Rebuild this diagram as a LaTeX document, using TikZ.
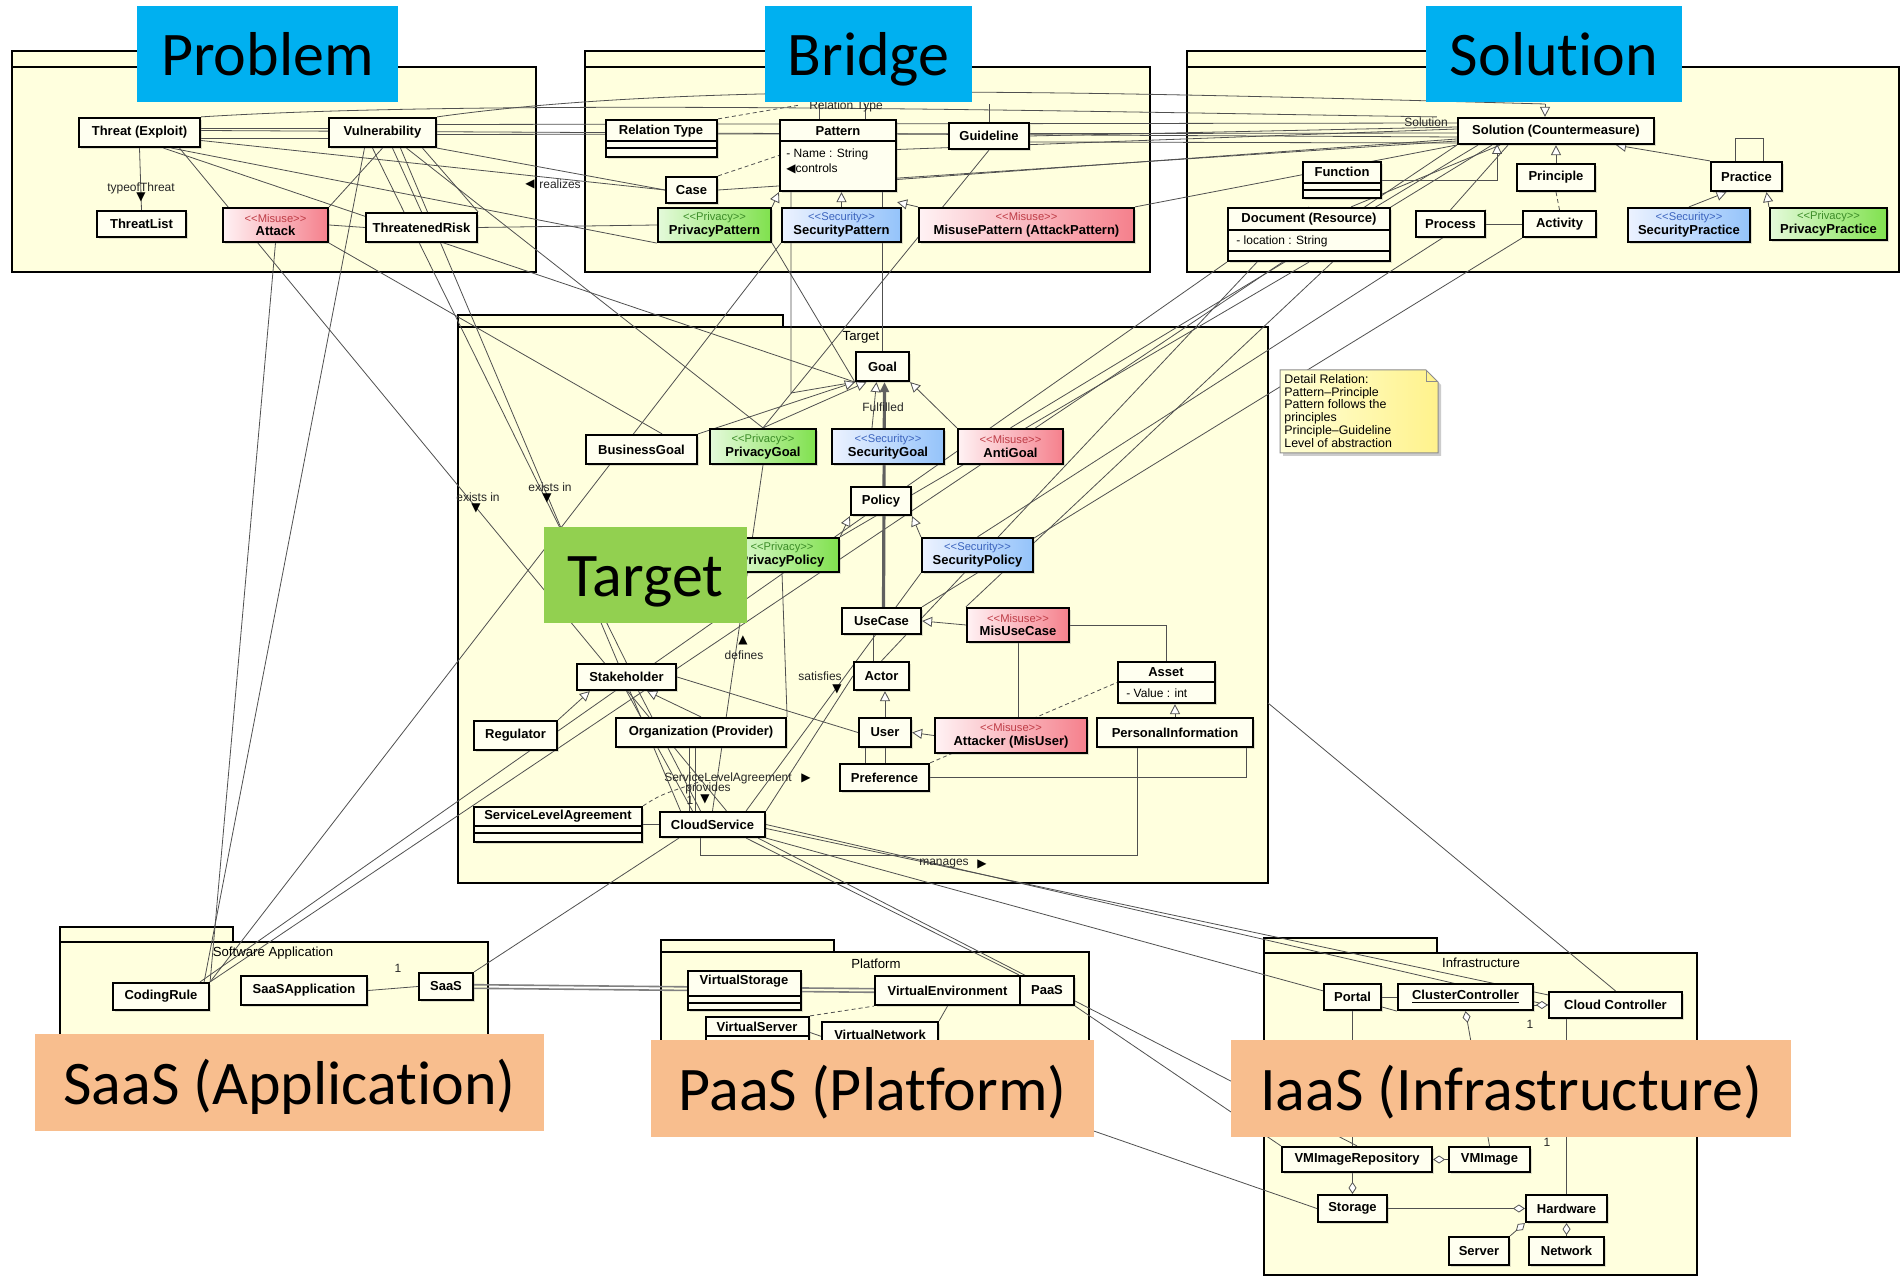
\documentclass[tikz,border=0pt]{standalone}
\usepackage{fontspec}
\setmainfont{Liberation Sans}
\newfontfamily\labfont[Ligatures=NoCommon]{Carlito}
\newfontfamily\symfont{DejaVu Sans}
\usetikzlibrary{arrows.meta,fit,shadows,calc}
\definecolor{blueL}{RGB}{0,176,240}
\definecolor{greenL}{RGB}{146,208,80}
\definecolor{orangeL}{RGB}{248,190,142}
\definecolor{pkgfill}{RGB}{255,255,222}
\definecolor{clsfill}{RGB}{255,255,240}
\definecolor{linec}{RGB}{80,80,80}
\definecolor{privL}{RGB}{228,250,218}
\definecolor{privR}{RGB}{128,225,78}
\definecolor{secL}{RGB}{236,242,255}
\definecolor{secR}{RGB}{148,195,250}
\definecolor{misL}{RGB}{255,242,244}
\definecolor{misR}{RGB}{245,128,140}
\definecolor{privT}{RGB}{60,140,40}
\definecolor{secT}{RGB}{60,100,190}
\definecolor{misT}{RGB}{190,60,70}
\definecolor{noteL}{RGB}{255,255,215}
\definecolor{noteR}{RGB}{255,242,140}
\pgfdeclarelayer{pkg}\pgfdeclarelayer{lines}\pgfdeclarelayer{fg}
\pgfsetlayers{pkg,lines,main,fg}
\tikzset{
  pkgbox/.style={draw=black, line width=1.3pt, fill=pkgfill, inner sep=0pt},
  pkgline/.style={draw=black, line width=1.3pt, fill=pkgfill},
  pkgname/.style={font=\fontsize{6.6}{7}\selectfont, inner sep=0pt},
  clsbox/.style={draw=black, line width=1.1pt, inner sep=0pt,
    drop shadow={opacity=0.25, shadow xshift=1.2pt, shadow yshift=-1.2pt}},
  plainc/.style={fill=clsfill},
  privc/.style={left color=privL, right color=privR},
  secc/.style={left color=secL, right color=secR},
  misc/.style={left color=misL, right color=misR},
  clstxt/.style={font=\bfseries\fontsize{6.5}{6.9}\selectfont, align=center, inner sep=0pt},
  attrtxt/.style={font=\fontsize{6}{7}\selectfont, inner sep=0pt},
  conn/.style={draw=linec, line width=0.4pt},
  gen/.style={-{Triangle[open, length=5pt, width=5pt, fill=white]}},
  aggs/.style={{Diamond[open, length=6pt, width=4pt, fill=white]}-},
  dsh/.style={dash pattern=on 2pt off 1.5pt},
  thk/.style={draw=gray!75!black, line width=1.6pt},
  small/.style={font=\fontsize{6}{6.5}\selectfont, inner sep=0pt, text=black!85},
  tri/.style={font=\symfont\fontsize{6}{6}\selectfont, inner sep=0pt},
  biglabel/.style={draw=none, inner sep=0pt},
  bigtxt/.style={font=\labfont\fontsize{31}{36}\selectfont, inner sep=0pt, anchor=base},
  notetxt/.style={font=\fontsize{6.2}{6.4}\selectfont, align=left, inner sep=0pt}
}
\newcommand\cls[7][plainc]{%
  \coordinate (#2-nw) at (#3,#4);
  \coordinate (#2-se) at (#5,#6);
  \node[clsbox,#1,fit=(#2-nw)(#2-se)] (#2) {};
  \node[clstxt] (#2-t) at (#2.center) {#7};}
\newcommand\st[2]{\textcolor{#1}{\mdseries\fontsize{5.6}{6.2}\selectfont <{}<#2>{}>}\\}
\newcommand\pkg[7]{%
  \draw[pkgline] (#2,#3) rectangle (#4,#5);
  \coordinate (#1-nw) at (#2,#5);
  \coordinate (#1-se) at (#6,#7);
  \node[pkgbox, fit=(#1-nw)(#1-se)] (#1) {};}
\newcommand\biglab[7]{%
  \coordinate (#1-nw) at (#2,#3);
  \coordinate (#1-se) at (#4,#5);
  \node[biglabel, fill=#6, fit=(#1-nw)(#1-se)] (#1) {};
  \node[bigtxt] (#1-t) at ([yshift=-11pt]#1.center) {#7};}
\begin{document}
\begin{tikzpicture}[x=0.5pt,y=-0.5pt]
\useasboundingbox (0,0) rectangle (1901,1277);
\begin{pgfonlayer}{pkg}
\fill[white] (0,0) rectangle (1901,1277);
\pkg{prob}{12}{51}{150}{67}{536}{272}
\pkg{bridgep}{585}{51}{780}{67}{1150}{272}
\pkg{solp}{1187}{51}{1440}{67}{1899}{272}
\pkg{tgtp}{458}{315}{783}{327}{1268}{883}
\pkg{swap}{60}{927}{233}{942}{488}{1045}
\pkg{platp}{661}{940}{834}{952}{1089}{1045}
\pkg{infrap}{1264}{938}{1437}{953}{1697}{1275}
\end{pgfonlayer}

\node[pkgname] (tgt-n) at (861,337) {Target};
\node[pkgname] (swa-n) at (273,953) {Software Application};
\node[pkgname] (plat-n) at (876,964) {Platform};
\node[pkgname] (infra-n) at (1481,963) {Infrastructure};
\node[small] (reltype-lbl) at (846,106) {Relation Type};
\node[small] (sol-lbl) at (1426,122) {Solution};

% ---------- Problem
\cls{threat}{79}{118}{200}{147}{Threat (Exploit)}
\cls{vuln}{329}{118}{436}{147}{Vulnerability}
\cls{tlist}{97}{211}{186}{237}{ThreatList}
\cls[misc]{attack}{223}{208}{328}{242}{\st{misT}{Misuse}Attack}
\cls{risk}{366}{213}{477}{242}{ThreatenedRisk}
% ---------- Bridge
\cls{reltype}{606}{120}{717}{157}{}
\node[clstxt] (reltype-n) at (661,131) {Relation Type};
\draw[line width=0.6pt] (606,141) -- (717,141) (606,148) -- (717,148);
\cls{pattern}{780}{120}{896}{191}{}
\node[clstxt] (pattern-n) at (838,131) {Pattern};
\draw[line width=0.6pt] (780,141) -- (896,141);
\node[attrtxt, anchor=west] (pattern-a1) at (786,154) {- Name : String};
\node[attrtxt, anchor=west] (pattern-a2) at (786,169) {{\symfont ◀}controls};
\cls{guideline}{949}{123}{1029}{149}{Guideline}
\cls{case}{666}{177}{717}{203}{Case}
\cls[privc]{privpat}{658}{208}{771}{242}{\st{privT}{Privacy}PrivacyPattern}
\cls[secc]{secpat}{782}{208}{901}{242}{\st{secT}{Security}SecurityPattern}
\cls[misc]{mispat}{919}{208}{1134}{242}{\st{misT}{Misuse}MisusePattern (AttackPattern)}
% ---------- Solution
\cls{solution}{1458}{118}{1654}{144}{Solution (Countermeasure)}
\cls{function}{1303}{162}{1381}{198}{}
\node[clstxt] (function-n) at (1342,172) {Function};
\draw[line width=0.6pt] (1303,183) -- (1381,183) (1303,190) -- (1381,190);
\cls{principle}{1517}{164}{1595}{191}{Principle}
\cls{practice}{1711}{162}{1782}{191}{Practice}
\cls{document}{1228}{208}{1390}{261}{}
\node[clstxt] (document-n) at (1309,219) {Document (Resource)};
\draw[line width=0.6pt] (1228,230) -- (1390,230) (1228,251) -- (1390,251);
\node[attrtxt, anchor=west] (document-a) at (1236,241) {- location : String};
\cls{process}{1416}{211}{1485}{237}{Process}
\cls{activity}{1523}{211}{1596}{237}{Activity}
\cls[secc]{secprac}{1628}{208}{1750}{242}{\st{secT}{Security}SecurityPractice}
\cls[privc]{privprac}{1770}{208}{1887}{240}{\st{privT}{Privacy}PrivacyPractice}
% ---------- Target
\cls{goal}{856}{352}{909}{381}{Goal}
\cls{bgoal}{586}{435}{697}{464}{BusinessGoal}
\cls[privc]{pgoal}{710}{429}{816}{464}{\st{privT}{Privacy}PrivacyGoal}
\cls[secc]{sgoal}{832}{429}{944}{464}{\st{secT}{Security}SecurityGoal}
\cls[misc]{agoal}{958}{429}{1063}{464}{\st{misT}{Misuse}AntiGoal}
\cls{policy}{851}{487}{911}{515}{Policy}
\cls[privc]{ppol}{725}{538}{839}{572}{\st{privT}{Privacy}PrivacyPolicy}
\cls[secc]{spol}{922}{538}{1033}{572}{\st{secT}{Security}SecurityPolicy}
\cls{usecase}{842}{608}{921}{634}{UseCase}
\cls[misc]{misuc}{967}{608}{1069}{642}{\st{misT}{Misuse}MisUseCase}
\cls{stake}{577}{664}{676}{690}{Stakeholder}
\cls{actor}{854}{662}{909}{690}{Actor}
\cls{asset}{1118}{662}{1215}{703}{}
\node[clstxt] (asset-n) at (1166,672) {Asset};
\draw[line width=0.6pt] (1118,682) -- (1215,682);
\node[attrtxt, anchor=west] (asset-a) at (1126,693) {- Value : int};
\cls{reg}{474}{721}{557}{750}{Regulator}
\cls{org}{616}{718}{786}{747}{Organization (Provider)}
\cls{user}{859}{718}{911}{747}{User}
\cls[misc]{attacker}{935}{718}{1087}{753}{\st{misT}{Misuse}Attacker (MisUser)}
\cls{pinfo}{1097}{718}{1253}{747}{PersonalInformation}
\cls{pref}{840}{764}{929}{791}{Preference}
\cls{sla}{474}{807}{642}{842}{}
\node[clstxt] (sla-n) at (558,816) {ServiceLevelAgreement};
\draw[line width=0.6pt] (474,826) -- (642,826) (474,833) -- (642,833);
\cls{cs}{660}{812}{765}{837}{CloudService}
% ---------- Software Application
\cls{coding}{113}{983}{209}{1010}{CodingRule}
\cls{saasapp}{241}{976}{367}{1005}{SaaSApplication}
\cls{saas}{419}{973}{473}{1000}{SaaS}
% ---------- Platform
\cls{vstor}{688}{971}{801}{1010}{}
\node[clstxt] (vstor-n) at (744,981) {VirtualStorage};
\draw[line width=0.6pt] (688,996) -- (801,996) (688,1003) -- (801,1003);
\cls{venv}{875}{976}{1020}{1005}{VirtualEnvironment}
\cls{paas}{1020}{976}{1074}{1005}{PaaS}
\cls{vserver}{706}{1017}{809}{1048}{}
\node[clstxt] (vserver-n) at (757,1027) {VirtualServer};
\draw[line width=0.6pt] (706,1036) -- (809,1036);
\cls{vnet}{822}{1022}{938}{1048}{VirtualNetwork}
% ---------- Infrastructure
\cls{portal}{1324}{984}{1381}{1010}{Portal}
\cls{cluster}{1398}{984}{1533}{1010}{\underline{ClusterController}}
\cls{cloudctrl}{1549}{992}{1682}{1018}{Cloud Controller}
\cls{vmrepo}{1282}{1147}{1432}{1172}{VMImageRepository}
\cls{vmimage}{1449}{1147}{1530}{1172}{VMImage}
\cls{storage}{1318}{1195}{1387}{1222}{Storage}
\cls{hardware}{1526}{1195}{1607}{1222}{Hardware}
\cls{server}{1449}{1237}{1509}{1265}{Server}
\cls{network}{1529}{1237}{1604}{1265}{Network}
% ---------- Note
\fill[black!20] (1283,373) -- (1429,373) -- (1441,385) -- (1441,456) -- (1283,456) -- cycle;
\shade[left color=noteL, right color=noteR, draw=black!45, line width=0.5pt]
  (1280,370) -- (1426,370) -- (1438,382) -- (1438,453) -- (1280,453) -- cycle;
\draw[black!45, line width=0.5pt] (1426,370) -- (1426,382) -- (1438,382);
\node[notetxt, anchor=north west] (note-t) at (1284,374)
  {Detail Relation:\\Pattern--Principle\\Pattern follows the\\principles\\Principle--Guideline\\Level of abstraction};

% ---------- helper coordinates
\coordinate (pt1) at (819,104);
\coordinate (pt2) at (865,104);
\coordinate (assoc) at (800,105);
\coordinate (arcA) at (1545,104);
\coordinate (fsol) at (1497,144);
\coordinate (pl1) at (1735,138);
\coordinate (pl2) at (1763,138);
\coordinate (pg1) at (791,393);
\coordinate (mg1) at (700,855);
\coordinate (mg2) at (1137,855);
\coordinate (slac) at (702,781);
\coordinate (tgte) at (1268,703);

\begin{pgfonlayer}{lines}
% Problem
\draw[conn] ([yshift=-3]threat.east) -- ([yshift=-3]vuln.west);
\draw[conn] ([yshift=2]threat.east) -- ([yshift=2]vuln.west);
\draw[conn] (threat.south) -- (tlist.north);
\draw[conn] (attack.east) -- (risk.west);
\draw[conn] (risk.east) -- (privpat.west);
\draw[conn] ([yshift=-4]threat.east) -- (case.west);
\draw[conn] (vuln.south east) -- (case.west);
\draw[conn] ([yshift=1]threat.east) -- ([yshift=-3]solution.west);
\draw[conn] ([yshift=4]vuln.east) -- ([yshift=4]solution.west);
\draw[conn] ([yshift=-1]vuln.east) -- ([yshift=-1]solution.west);
\draw[conn] (vuln.south) -- (attack.north east);
\draw[conn] ([xshift=5]vuln.south) -- (risk.north);
\draw[conn] ([xshift=20]vuln.south) -- (risk.north east);
\draw[conn] (vuln.north east) .. controls (700,80) and (1100,92) .. (arcA);
\draw[conn,gen] (arcA) -- (arcA |- solution.north);
\draw[conn] (threat.north east) .. controls (500,98) and (1100,112) .. ([xshift=-10]solution.north west);
\draw[conn] ([xshift=12]threat.south) -- (goal.south west);
\draw[conn] ([xshift=16]threat.south) -- (privpat.south west);
\draw[conn] ([xshift=20]threat.south) -- ([xshift=7]cs.north);
\draw[conn] ([xshift=9]vuln.south) -- ([xshift=-16]cs.north);
\draw[conn] (attack.south east) -- ([xshift=-18]bgoal.north east);
\draw[conn] ([xshift=-5]vuln.south) -- (stake.north);
\draw[conn] ([xshift=12]vuln.south) -- (pgoal.north);
\draw[conn] (attack.south) -- (coding.north east);
\draw[conn] ([xshift=-9]vuln.south) -- ([xshift=-3]coding.north east);
% Bridge
\draw[conn,dsh] (reltype.north east) -- (assoc);
\draw[conn] (pattern.north -| pt1) -- (pt1);
\draw[conn] (pattern.north -| pt2) -- (pt2);
\draw[conn] (guideline.north) -- (guideline.north |- pt1);
\draw[conn,dsh] (case.north east) -- (pattern.west);
\draw[conn,gen] (privpat.north east) -- (pattern.south west);
\draw[conn,gen] (secpat.north) -- (secpat.north |- pattern.south);
\draw[conn,gen] (mispat.north west) -- ([yshift=-5]pattern.south east);
\draw[conn] ([yshift=3]pattern.east) -- ([yshift=1]solution.west);
\draw[conn] ([yshift=-12]pattern.east) -- ([yshift=-4]solution.west);
\draw[conn] (guideline.east) -- ([yshift=2]solution.west);
\draw[conn] ([yshift=-3]guideline.east) -- ([yshift=-6]solution.west);
\draw[conn] (case.east) -- ([yshift=-5]solution.west);
\draw[conn] (mispat.north east) -- ([yshift=-7]solution.west);
\draw[conn] (pattern.south -| goal.north) -- (goal.north);
\draw[conn] (pattern.south -| pg1) -- (pg1) -- (goal.south west);
\draw[conn] (guideline.south) -- (pgoal.north);
\draw[conn] (privpat.south east) -- (goal.south west);
\draw[conn] (secpat.south west) -- (coding.north east);
% Solution
\draw[conn,gen] (principle.north) -- (principle.north |- solution.south);
\draw[conn,gen] (function.east) -| (fsol);
\draw[conn,gen] (practice.north west) -- ([xshift=30]solution.south);
\draw[conn] (practice.north -| pl1) -- (pl1) -- (pl2) -- (practice.north -| pl2);
\draw[conn,gen] (secprac.north) -- ([xshift=-10]practice.south);
\draw[conn,gen] (privprac.north west) -- ([xshift=10]practice.south);
\draw[conn,dsh] (activity.north) -- (principle.south);
\draw[conn] (process.east) -- (activity.west);
\draw[conn] (document.north east) -- ([xshift=-32]solution.south);
\draw[conn] ([xshift=-20]document.north east) -- ([xshift=-28]solution.south);
\draw[conn] (process.north) -- ([xshift=-24]solution.south);
\draw[conn] ([xshift=-39]solution.south) -- (agoal.north);
\draw[conn] (document.north east) -- (misuc.north west);
\draw[conn] (process.north east) -- (spol.north);
\draw[conn] (document.south) -- (ppol.north east);
\draw[conn] (document.north) -- (actor.north);
\draw[conn] (solution.south west) -- (coding.north east);
\draw[conn] (document.south west) -- ([xshift=-5]coding.north east);
\draw[conn] (activity.south west) -- (usecase.north east);
% Target internal
\draw[conn,gen] (bgoal.north east) -- (goal.south west);
\draw[conn,gen] (pgoal.north) -- ([xshift=-8]goal.south);
\draw[conn,gen] ([xshift=-8]sgoal.north) -- ([xshift=-3]goal.south);
\draw[conn,gen] (agoal.north west) -- (goal.south east);
\draw[thk,-{Triangle[length=5pt,width=4.5pt]}] ([xshift=1]usecase.north) -- ([xshift=1]goal.south);
\draw[conn,gen] (ppol.north east) -- (policy.south west);
\draw[conn,gen] (spol.north west) -- (policy.south east);
\draw[conn,gen] (misuc.west) -- (usecase.east);
\draw[conn] ([xshift=-4]actor.north) -- ([xshift=-4]actor.north |- usecase.south);
\draw[conn,gen] (user.north) -- (user.north |- actor.south);
\draw[conn,gen] (attacker.west) -- (user.east);
\draw[conn,gen] (reg.north east) -- ([xshift=7]stake.south west);
\draw[conn,gen] (org.north) -- ([xshift=-15]stake.south east);
\draw[conn,gen] (pinfo.north) -- (pinfo.north |- asset.south);
\draw[conn] ([xshift=-10]pref.north -| user.south) -- ([xshift=-10]user.south);
\draw[conn] (pref.north -| user.south) -- (user.south);
\draw[conn] (pref.east) -| ([xshift=-4]pinfo.south east);
\draw[conn] (misuc.east) -| (asset.north);
\draw[conn] (misuc.south) -- (misuc.south |- attacker.north);
\draw[conn,dsh] (pref.north east) -- (asset.west);
\draw[conn] (cs.south -| mg1) -- (mg1) -- (mg2) -- (pinfo.south -| mg2);
\draw[conn] ([xshift=-6]org.south) -- ([xshift=-6]org.south |- cs.north);
\draw[conn] ([xshift=-3]org.south) -- ([xshift=-3]org.south |- cs.north);
\draw[conn] (stake.south) -- ([xshift=-10]cs.north);
\draw[conn] ([xshift=6]stake.south) -- ([xshift=-6]cs.north);
\draw[conn] (sla.east) -- (cs.west);
\draw[conn,dsh] (sla.north east) .. controls (660,795) .. (slac);
\draw[conn] (org.north east) -- (ppol.south);
\draw[conn] (cs.north east) -- (actor.west);
\draw[conn] (stake.east) -- (user.west);
\draw[conn] ([xshift=-10]cs.north east) -- (spol.south west);
\draw[conn] (cs.north) -- (pgoal.south);
% Target to bottom
\draw[conn] ([xshift=10]cs.south west) -- (saas.north east);
\draw[conn] ([xshift=-10]cs.south east) -- (paas.north west);
\draw[conn] (cs.east) -- (cloudctrl.west);
\draw[conn] ([yshift=-2]cs.east) -- ([yshift=-2]cloudctrl.north west);
\draw[conn] (cs.south east) -- (cluster.south west);
\draw[conn] ([xshift=-4]cs.south east) -- (vmrepo.north);
\draw[conn] (tgte) -- (cloudctrl.north);
% Bottom
\draw[conn, line width=0.8pt, draw=gray] ([yshift=-0.9]saas.east) -- ([yshift=-0.9]venv.west);
\draw[conn, line width=0.8pt, draw=gray] ([yshift=0.9]saas.east) -- ([yshift=0.9]venv.west);
\draw[conn] (saasapp.east) -- (saas.west);
\draw[conn,dsh] (vserver.north east) -- (venv.south west);
\draw[conn] (vnet.north east) -- (venv.south);
\draw[conn] (paas.south east) -- (vmrepo.north west);
\draw[conn] (vserver.east) -- (storage.west);
% Infrastructure
\draw[conn] (portal.east) -- (cluster.west);
\draw[conn,aggs] (cloudctrl.west) -- (cloudctrl.west -| cluster.east);
\draw[conn,aggs] (cluster.south) -- (vmimage.north);
\draw[conn] (portal.south) -- (portal.south |- vmrepo.north);
\draw[conn,aggs] (vmrepo.east) -- (vmimage.west);
\draw[conn,aggs] (storage.north) -- (storage.north |- vmrepo.south);
\draw[conn,aggs] (hardware.west) -- (storage.east);
\draw[conn,aggs] (hardware.south west) -- (server.north east);
\draw[conn,aggs] (hardware.south) -- (hardware.south |- network.north);
\draw[conn] (cloudctrl.south -| hardware.north) -- (hardware.north);
\end{pgfonlayer}

% connector labels
\node[small] (lb-hyp) at (141,188) {typeofThreat};
\node[tri] (tr-hyp) at (141,197) {▼};
\node[small] (lb-real) at (560,184) {realizes};
\node[tri] (tr-real) at (530,184) {◀};
\node[small] (lb-ful) at (883,407) {Fulfilled};
\node[small] (lb-ex1) at (478,497) {exists in};
\node[tri] (tr-ex1) at (476,508) {▼};
\node[small] (lb-ex2) at (550,487) {exists in};
\node[tri] (tr-ex2) at (547,498) {▼};
\node[small] (lb-def) at (744,655) {defines};
\node[tri] (tr-def) at (743,640) {▲};
\node[small] (lb-sat) at (820,676) {satisfies};
\node[tri] (tr-sat) at (837,689) {▼};
\node[small] (lb-sla) at (728,778) {ServiceLevelAgreement};
\node[small] (lb-prov) at (708,788) {provides};
\node[tri] (tr-sla) at (806,778) {▶};
\node[tri] (tr-prov) at (705,799) {▼};
\node[small] (lb-man) at (944,864) {manages};
\node[tri] (tr-man) at (982,864) {▶};
\node[small] (m1) at (398,968) {1};
\node[small] (m2) at (1530,1024) {1};
\node[small] (m3) at (1547,1142) {1};
\node[small] (m4) at (690,800) {1};

\begin{pgfonlayer}{fg}
\biglab{probL}{137}{6}{398}{102}{blueL}{Problem}
\biglab{bridgeL}{765}{6}{972}{102}{blueL}{Bridge}
\biglab{solL}{1426}{6}{1682}{102}{blueL}{Solution}
\biglab{tgtL}{544}{527}{747}{623}{greenL}{Target}
\biglab{saasL}{35}{1034}{544}{1131}{orangeL}{SaaS (Application)}
\biglab{paasL}{651}{1040}{1094}{1137}{orangeL}{PaaS (Platform)}
\biglab{iaasL}{1231}{1040}{1791}{1137}{orangeL}{IaaS (Infrastructure)}
\end{pgfonlayer}
\end{tikzpicture}
\end{document}
